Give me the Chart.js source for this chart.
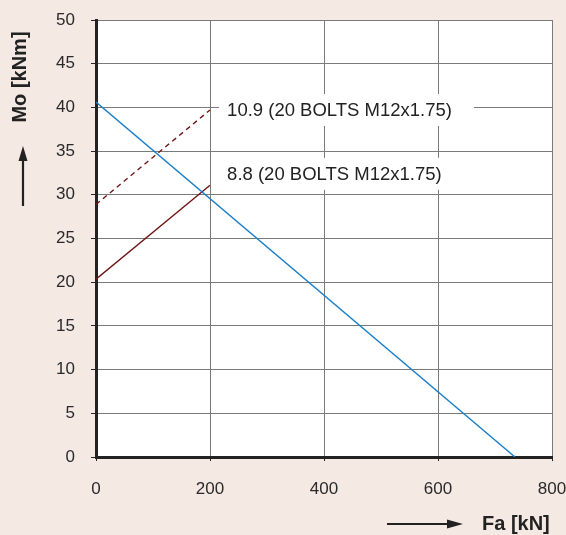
<!DOCTYPE html>
<html>
<head>
<meta charset="utf-8">
<script src="https://cdn.jsdelivr.net/npm/chart.js@4.4.0/dist/chart.umd.min.js"></script>
<style>
  html, body { margin: 0; padding: 0; background: #f4e9e3; }
</style>
</head>
<body>
<canvas id="myChart" width="566" height="535"></canvas>
<script>
// values
var xTicks = [0, 200, 400, 600, 800];
var yTicks = [0, 5, 10, 15, 20, 25, 30, 35, 40, 45, 50];
var limitX = [0, 735];          // Fa [kN]
var limitY = [40.6, 0];         // Mo [kNm]
var bolt88X = [0, 200];
var bolt88Y = [20.35, 31.1];
var bolt109X = [0, 200];
var bolt109Y = [28.9, 39.7];
var labels = ['10.9 (20 BOLTS M12x1.75)', '8.8 (20 BOLTS M12x1.75)'];
var labelX = [230, 230];
var labelY = [39.7, 32.4];

function pts(xs, ys) {
    return xs.map(function (x, i) { return { x: x, y: ys[i] }; });
}

var ink = '#222222';
var font = 'Arial, "Liberation Sans", sans-serif';

var decor = {
    id: 'decor',
    beforeDraw: function (chart) {
        var c = chart.ctx, a = chart.chartArea;
        c.save();
        c.fillStyle = '#ffffff';
        c.fillRect(a.left, a.top, a.right - a.left, a.bottom - a.top);
        c.restore();
    },
    afterDatasetsDraw: function (chart) {
        var c = chart.ctx;
        var xs = chart.scales.x, ys = chart.scales.y;
        c.save();
        c.font = '18.5px ' + font;
        c.textBaseline = 'middle';
        for (var i = 0; i < labels.length; i++) {
            var px = xs.getPixelForValue(labelX[i]);
            var py = ys.getPixelForValue(labelY[i]);
            var w = c.measureText(labels[i]).width;
            c.fillStyle = '#ffffff';
            c.fillRect(px - 8, py - 16, w + 30, 32);
            c.fillStyle = ink;
            c.fillText(labels[i], px, py + 1);
        }
        // axis titles
        c.font = 'bold 20px ' + font;
        c.fillStyle = ink;
        c.save();
        c.translate(20, 77);
        c.rotate(-Math.PI / 2);
        c.textAlign = 'center';
        c.fillText('Mo [kNm]', 0, 0);
        c.restore();
        c.textAlign = 'left';
        c.fillText('Fa [kN]', 482, 524);
        // arrows
        c.strokeStyle = ink;
        c.lineWidth = 2.2;
        c.beginPath();
        c.moveTo(23, 206); c.lineTo(23, 160);
        c.moveTo(387, 524); c.lineTo(448, 524);
        c.stroke();
        c.beginPath();
        c.moveTo(23, 146); c.lineTo(18.5, 161); c.lineTo(27.5, 161); c.closePath();
        c.moveTo(463, 524); c.lineTo(447, 519.5); c.lineTo(447, 528.5); c.closePath();
        c.fill();
        c.restore();
    }
};

const ctx = document.getElementById('myChart');
new Chart(ctx, {
    type: 'scatter',
    data: {
        datasets: [{
            data: pts(limitX, limitY),
            showLine: true,
            borderColor: '#1a7ec8',
            borderWidth: 1.4,
            pointRadius: 0
        }, {
            data: pts(bolt88X, bolt88Y),
            showLine: true,
            borderColor: '#6e1414',
            borderWidth: 1.4,
            pointRadius: 0
        }, {
            data: pts(bolt109X, bolt109Y),
            showLine: true,
            borderColor: '#6e1414',
            borderWidth: 1.4,
            borderDash: [5, 4],
            pointRadius: 0
        }]
    },
    options: {
        responsive: false,
        animation: false,
        devicePixelRatio: 1,
        layout: { padding: { left: 0, top: 20, right: 14, bottom: 0 } },
        plugins: { legend: { display: false }, tooltip: { enabled: false } },
        scales: {
            x: {
                type: 'linear',
                min: 0, max: 800,
                afterFit: function (s) { s.height = 78; s.paddingLeft = 0; s.paddingRight = 0; },
                afterBuildTicks: function (s) { s.ticks = xTicks.map(function (v) { return { value: v }; }); },
                grid: { color: '#7a7a7a', lineWidth: 1, tickLength: 4, tickColor: ink },
                border: { color: ink, width: 3 },
                ticks: { color: '#2a2a2a', padding: 18, font: { size: 17, family: font } }
            },
            y: {
                type: 'linear',
                min: 0, max: 50,
                afterFit: function (s) { s.width = 96; s.paddingTop = 0; s.paddingBottom = 0; },
                afterBuildTicks: function (s) { s.ticks = yTicks.map(function (v) { return { value: v }; }); },
                grid: { color: '#7a7a7a', lineWidth: 1, tickLength: 5, tickColor: ink },
                border: { color: ink, width: 3 },
                ticks: { color: '#2a2a2a', padding: 16, font: { size: 17, family: font } }
            }
        }
    },
    plugins: [decor]
});
</script>
</body>
</html>
